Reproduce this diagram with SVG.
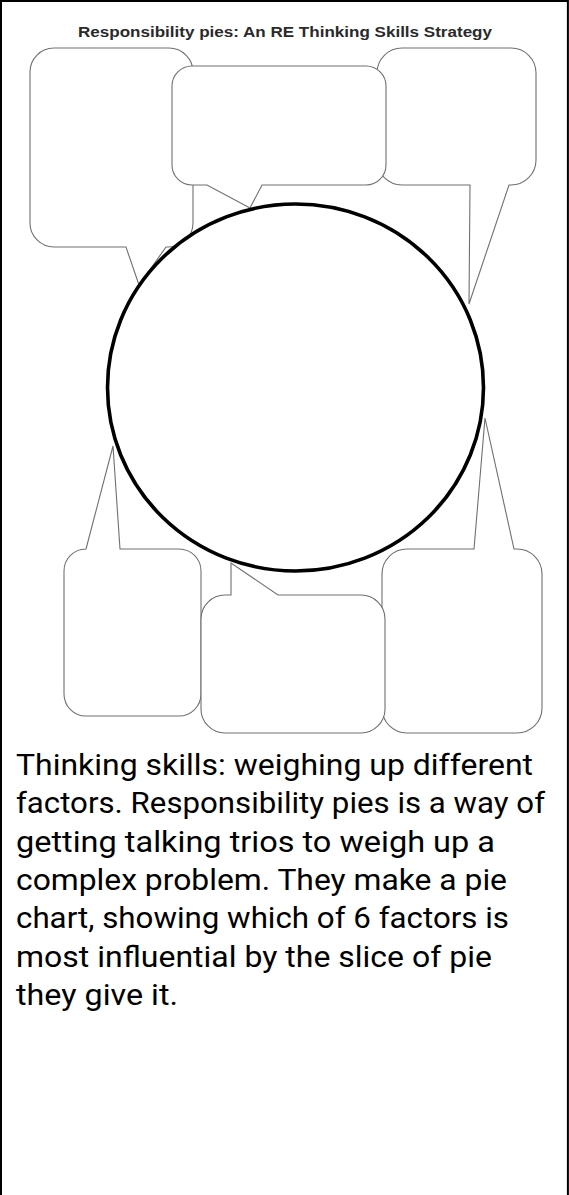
<svg xmlns="http://www.w3.org/2000/svg" width="569" height="1195" viewBox="0 0 569 1195">
  <style>
    .bubble { fill: #ffffff; stroke: #707070; stroke-width: 1.1; stroke-linejoin: miter; }
    .pie { fill: #ffffff; stroke: #000000; stroke-width: 3.6; }
    .title { font-family: "Liberation Sans", Arial, sans-serif; font-weight: bold; font-size: 14.5px; fill: #2a2a2a; }
    .body { font-family: Roboto, "Noto Sans", sans-serif; font-size: 29px; fill: #000000; }
  </style>
  <rect x="0" y="0" width="569" height="1195" fill="#ffffff"/>
  <path d="M1,1195 V0.9 H567.9 V1195" fill="none" stroke="#000000" stroke-width="2"/>
  <text class="title" x="78" y="37" textLength="414" lengthAdjust="spacingAndGlyphs">Responsibility pies: An RE Thinking Skills Strategy</text>

  <g id="bubble-top-left">
    <path class="bubble" d="M54,48 H169 A24,24 0 0 1 193,72 V223 A24,24 0 0 1 169,247 H166 L139,285 L126,247 H54 A24,24 0 0 1 30,223 V72 A24,24 0 0 1 54,48 Z"/>
  </g>
  <g id="bubble-top-right">
    <path class="bubble" d="M402,48 H511 A25,25 0 0 1 536,73 V160 A25,25 0 0 1 511,185 H509 L469,304 L470,185 H402 A25,25 0 0 1 377,160 V73 A25,25 0 0 1 402,48 Z"/>
  </g>
  <g id="bubble-top-middle">
    <path class="bubble" d="M192,66 H366 A20,20 0 0 1 386,86 V165 A20,20 0 0 1 366,185 H262 L250,208 L207,185 H192 A20,20 0 0 1 172,165 V86 A20,20 0 0 1 192,66 Z"/>
  </g>
  <g id="bubble-bottom-left">
    <path class="bubble" d="M86,549 L113,446 L120,549 H179 A22,22 0 0 1 201,571 V694 A22,22 0 0 1 179,716 H86 A22,22 0 0 1 64,694 V571 A22,22 0 0 1 86,549 Z"/>
  </g>
  <g id="bubble-bottom-right">
    <path class="bubble" d="M407,549 H474 L485,418 L514,549 H517 A25,25 0 0 1 542,574 V708 A25,25 0 0 1 517,733 H407 A25,25 0 0 1 382,708 V574 A25,25 0 0 1 407,549 Z"/>
  </g>
  <g id="bubble-bottom-middle">
    <path class="bubble" d="M201,619 A24,24 0 0 1 225,595 H231 V563 L278,595 H361 A24,24 0 0 1 385,619 V709 A24,24 0 0 1 361,733 H225 A24,24 0 0 1 201,709 Z"/>
  </g>

  <g id="pie">
    <ellipse class="pie" cx="295.5" cy="387.5" rx="188" ry="183.5"/>
  </g>

  <g id="description">
    <text class="body" x="16" y="775" textLength="517" lengthAdjust="spacingAndGlyphs">Thinking skills: weighing up different</text>
    <text class="body" x="16" y="813" textLength="529" lengthAdjust="spacingAndGlyphs">factors. Responsibility pies is a way of</text>
    <text class="body" x="16" y="852" textLength="479" lengthAdjust="spacingAndGlyphs">getting talking trios to weigh up a</text>
    <text class="body" x="16" y="890" textLength="491" lengthAdjust="spacingAndGlyphs">complex problem. They make a pie</text>
    <text class="body" x="16" y="928" textLength="493" lengthAdjust="spacingAndGlyphs">chart, showing which of 6 factors is</text>
    <text class="body" x="16" y="967" textLength="476" lengthAdjust="spacingAndGlyphs">most influential by the slice of pie</text>
    <text class="body" x="16" y="1005" textLength="162" lengthAdjust="spacingAndGlyphs">they give it.</text>
  </g>
</svg>
